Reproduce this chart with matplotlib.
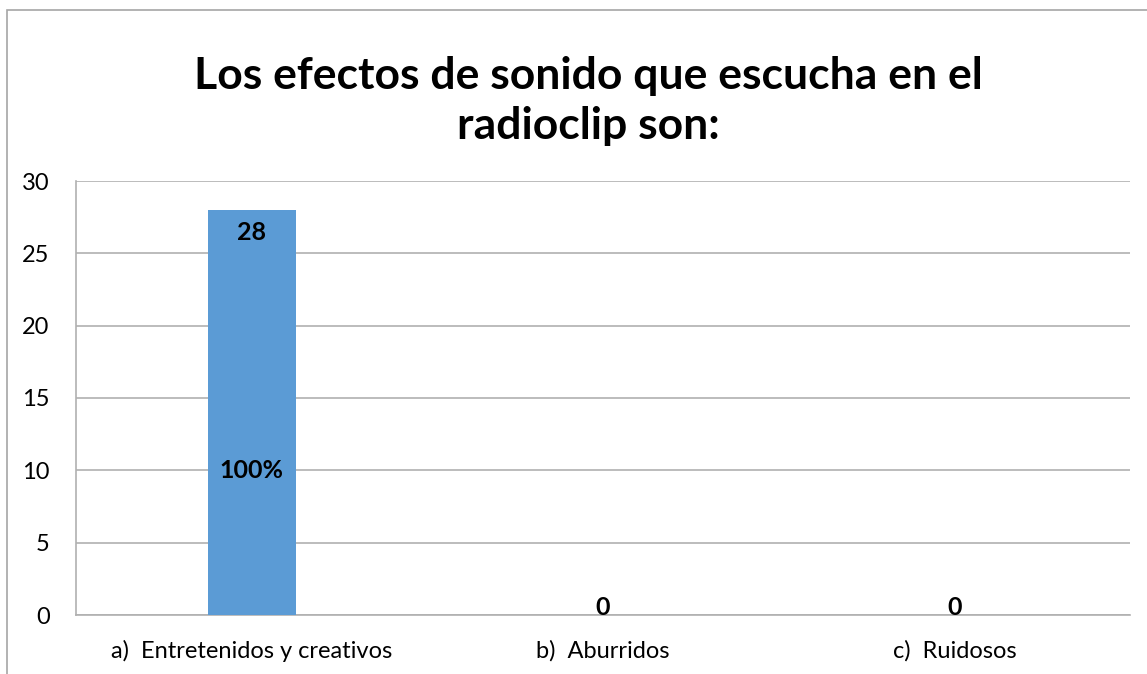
import matplotlib
matplotlib.use("Agg")
import matplotlib.pyplot as plt
from matplotlib.patches import Rectangle

# data
categories = ["a)  Entretenidos y creativos", "b)  Aburridos", "c)  Ruidosos"]
values = [28, 0, 0]
pct_labels = ["100%", "", ""]
title = "Los efectos de sonido que escucha en el\nradioclip son:"

plt.rcParams["font.family"] = ["Lato", "DejaVu Sans"]

W, H = 1147, 674
fig = plt.figure(figsize=(W / 100, H / 100), dpi=100)

# outer chart frame
fig.patches.append(Rectangle((7 / W, -0.1), 1.2, (H - 10) / H + 0.1,
                             transform=fig.transFigure, fill=False,
                             edgecolor="#A6A6A6", linewidth=1.2))

ax = fig.add_axes([76 / W, 59 / H, (1130 - 76) / W, (615 - 181) / H])

x = range(len(categories))
ax.bar(x, values, width=0.25, color="#5B9BD5", zorder=3)

ax.set_xlim(-0.5, len(categories) - 0.5)
ax.set_ylim(0, 30)
ax.set_yticks(range(0, 31, 5))
ax.set_xticks(list(x))
ax.set_xticklabels(categories, fontsize=17)
ax.tick_params(axis="y", labelsize=17, length=0, pad=19)
ax.tick_params(axis="x", length=0, pad=18)

ax.yaxis.grid(True, color="#B0B0B0", linewidth=1.2, zorder=0)
for side in ["top", "right"]:
    ax.spines[side].set_visible(False)
ax.spines["left"].set_color("#B0B0B0")
ax.spines["bottom"].set_color("#B0B0B0")
ax.spines["left"].set_linewidth(1.2)
ax.spines["bottom"].set_linewidth(1.2)

# value labels
for i, v in enumerate(values):
    if v > 0:
        ax.annotate(str(v), (i, v), xytext=(0, -8), textcoords="offset points",
                    ha="center", va="top", fontsize=18, fontweight="bold", zorder=4)
    else:
        ax.annotate(str(v), (i, v), xytext=(0, 0), textcoords="offset points",
                    ha="center", va="baseline", fontsize=18, fontweight="bold", zorder=4)

for i, p in enumerate(pct_labels):
    if p:
        ax.text(i, 10, p, ha="center", va="center", fontsize=18,
                fontweight="bold", zorder=4)

fig.text(588 / W, 1 - 101 / H, title, ha="center", va="center",
         fontsize=32, fontweight="bold", linespacing=1.3)

fig.savefig("out.png", dpi=100)
